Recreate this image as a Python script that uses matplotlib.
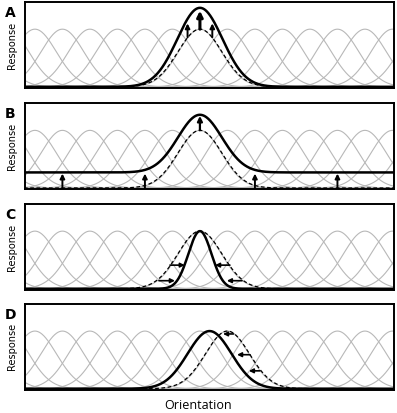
"""
Population response models: gain, additive offset, sharpening, shift.
"""
import numpy as np
import matplotlib.pyplot as plt

# tuning curve centres (in units of channel spacing), all panels
tuning_centres = list(range(-8, 9))
tuning_width = 0.78

panel_labels = ['A', 'B', 'C', 'D']

# dashed = baseline population response, solid = modulated response
dashed_centre = [0.0, 0.0, 0.0, 1.0]
dashed_amp = [1.0, 1.0, 1.0, 1.0]
dashed_width = [0.8, 0.8, 0.8, 0.8]

solid_centre = [0.0, 0.0, 0.0, 0.35]
solid_amp = [1.37, 1.0, 1.0, 1.0]
solid_width = [0.82, 0.8, 0.42, 0.8]
solid_offset = [0.0, 0.27, 0.0, 0.0]

# arrows: (x_start, y_start, x_end, y_end, linewidth)
arrows = [
    [(0.0, 1.0, 0.0, 1.32, 2.2), (-0.45, 0.86, -0.45, 1.1, 1.4), (0.45, 0.86, 0.45, 1.1, 1.4)],
    [(-5.0, 0.0, -5.0, 0.25, 1.4), (-2.0, 0.0, -2.0, 0.25, 1.4), (2.0, 0.0, 2.0, 0.25, 1.4),
     (5.0, 0.0, 5.0, 0.25, 1.4), (0.0, 1.0, 0.0, 1.25, 1.6)],
    [(-1.09, 0.41, -0.55, 0.41, 1.2), (1.09, 0.41, 0.55, 0.41, 1.2),
     (-1.49, 0.14, -0.91, 0.14, 1.2), (1.53, 0.14, 0.98, 0.14, 1.2)],
    [(1.22, 0.95, 0.84, 0.95, 1.2), (1.82, 0.59, 1.35, 0.59, 1.2), (2.18, 0.31, 1.78, 0.31, 1.2)],
]


def gauss(x, c, a, w):
    return a * np.exp(-(x - c) ** 2 / (2 * w ** 2))


fig = plt.figure(figsize=(3.97, 4.13), dpi=100)
x = np.linspace(-6.4, 7.1, 800)

bottoms = [0.787, 0.542, 0.298, 0.056]
for i, lab in enumerate(panel_labels):
    ax = fig.add_axes([0.063, bottoms[i], 0.929, 0.208])

    for c in tuning_centres:
        ax.plot(x, gauss(x, c, 1.0, tuning_width), color='#b8b8b8', lw=0.8, zorder=1)

    ax.plot(x, gauss(x, dashed_centre[i], dashed_amp[i], dashed_width[i]),
            color='black', lw=0.9, ls=(0, (3, 2)), zorder=2)
    ax.plot(x, gauss(x, solid_centre[i], solid_amp[i], solid_width[i]) + solid_offset[i],
            color='black', lw=1.8, zorder=3)

    for x0, y0, x1, y1, lw in arrows[i]:
        ax.annotate('', xy=(x1, y1), xytext=(x0, y0),
                    arrowprops=dict(arrowstyle='-|>', color='black', lw=lw,
                                    mutation_scale=4 + 2 * lw, shrinkA=0, shrinkB=0),
                    zorder=4)

    ax.set_xlim(-6.36, 7.05)
    ax.set_ylim(-0.02, 1.47)
    ax.set_xticks([])
    ax.set_yticks([])
    for s in ax.spines.values():
        s.set_linewidth(1.4)

    fig.text(0.012, bottoms[i] + 0.208 - 0.01, lab, fontsize=10, fontweight='bold',
             ha='left', va='top')
    fig.text(0.03, bottoms[i] + 0.104, 'Response', rotation=90, fontsize=7,
             ha='center', va='center')

fig.text(0.5, 0.018, 'Orientation', fontsize=9, family=['Open Sans', 'DejaVu Sans'],
         ha='center', va='center')

plt.savefig('out.png', dpi=100)
